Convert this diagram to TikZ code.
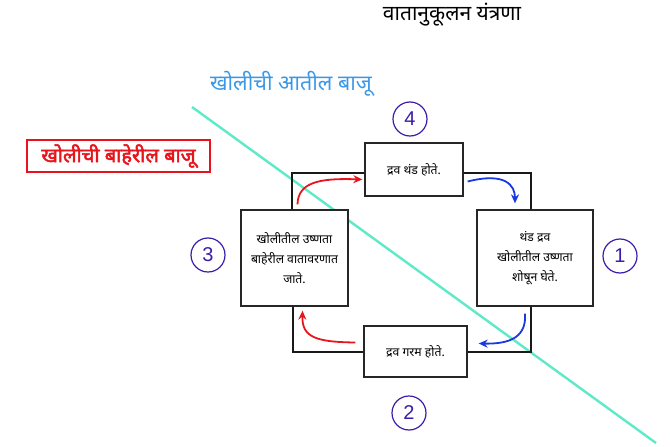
\documentclass[tikz,border=0pt]{standalone}
\usepackage{fontspec}
\setmainfont{Liberation Sans}
\newfontfamily\deva[Script=Devanagari]{Noto Sans}
\newfontfamily\devab[Script=Devanagari,FakeBold=2.5]{Noto Sans}
\usetikzlibrary{arrows.meta}
\definecolor{aqua}{HTML}{5EEAC8}
\definecolor{lblue}{HTML}{3A98E6}
\definecolor{lred}{HTML}{E8141C}
\definecolor{abl}{HTML}{1A38E0}
\definecolor{circ}{HTML}{3C1CA8}
\tikzset{
  stepbox/.style={draw=black!85, line width=1.3pt, fill=white, align=center,
    font=\deva\fontsize{12.2}{20}\selectfont, inner sep=2pt},
  loopline/.style={draw=black!90, line width=2pt},
  numc/.style={draw=circ, line width=1.2pt, circle, minimum size=34pt, inner sep=0pt,
    text=circ, font=\fontsize{20}{20}\selectfont},
  redarr/.style={draw=lred, line width=1.8pt, -{Stealth[length=9pt,width=8pt]}},
  bluearr/.style={draw=abl, line width=1.8pt, -{Stealth[length=9pt,width=8pt]}},
}
\begin{document}
\begin{tikzpicture}[x=1pt,y=-1pt]
\useasboundingbox (0,0) rectangle (670,447);
% diagonal line
\coordinate (d1) at (192,107);
\coordinate (d2) at (656,443);
\draw[aqua, line width=2.4pt] (d1) -- (d2);
% boxes
\node[stepbox, minimum width=98pt, minimum height=53pt] (T) at (414,169.5) {द्रव थंड होते.};
\node[stepbox, minimum width=116pt, minimum height=96pt] (R) at (535,258) {थंड द्रव\\खोलीतील उष्णता\\शोषून घेते.};
\node[stepbox, minimum width=107pt, minimum height=96pt] (L) at (294.5,258) {खोलीतील उष्णता\\बाहेरील वातावरणात\\जाते.};
\node[stepbox, minimum width=103pt, minimum height=51pt] (B) at (415.5,351.5) {द्रव गरम होते.};
% loop
\draw[loopline] ([xshift=-3pt]L.north) |- ([yshift=-3pt]T.west);
\draw[loopline] ([yshift=-3pt]T.east) -| ([xshift=-4pt]R.north);
\draw[loopline] ([xshift=-4pt]R.south) |- (B.east);
\draw[loopline] (B.west) -| ([xshift=-2pt]L.south);
% arrows
\draw[redarr] ([xshift=3pt,yshift=5pt]L.north) .. controls (298,182) and (320,178) .. ([xshift=-2pt,yshift=-10pt]T.west);
\draw[bluearr] ([xshift=4pt,yshift=-12pt]T.east) .. controls (505,172) and (515,185) .. ([xshift=-20pt,yshift=6pt]R.north);
\draw[bluearr] ([xshift=-10pt,yshift=-7pt]R.south) .. controls (527,340) and (505,344) .. ([xshift=11pt,yshift=8pt]B.east);
\draw[redarr] ([xshift=-8pt,yshift=9pt]B.west) .. controls (315,342) and (302,337) .. ([xshift=8pt,yshift=-4pt]L.south);
% numbers
\node[numc] (n4) at (410,119) {4};
\node[numc] (n1) at (620,256) {1};
\node[numc] (n3) at (208,255) {3};
\node[numc] (n2) at (409,413) {2};
% labels
\node[font=\deva\fontsize{21}{21}\selectfont] (title) at (452,15) {वातानुकूलन यंत्रणा};
\node[font=\deva\fontsize{21.5}{22}\selectfont, text=lblue] (inside) at (291,84) {खोलीची आतील बाजू};
\node[draw=lred, line width=1.3pt, minimum width=183pt, minimum height=32pt, inner sep=2pt,
  text=lred, font=\devab\fontsize{20}{20}\selectfont] (outside) at (118.5,156) {खोलीची बाहेरील बाजू};
\end{tikzpicture}
\end{document}
